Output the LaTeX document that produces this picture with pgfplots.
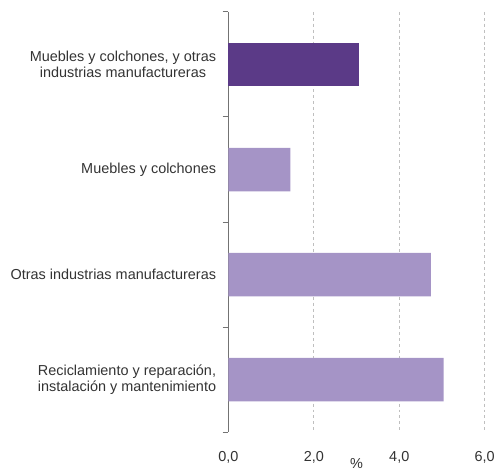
\documentclass[border=0pt]{standalone}
\usepackage{pgfplots}
\pgfplotsset{compat=1.18}
\usepackage{fontspec}
\setmainfont{Liberation Sans}
\definecolor{darkpurple}{HTML}{5B3A87}
\definecolor{lightpurple}{HTML}{A594C6}
\definecolor{txt}{HTML}{333333}
\begin{document}
\begin{tikzpicture}
\begin{axis}[
    xbar,
    bar shift=0pt,
    scale only axis,
    width=259pt,
    height=425pt,
    bar width=44pt,
    xmin=0, xmax=6,
    ymin=-0.5, ymax=3.5,
    y dir=reverse,
    axis lines*=left,
    x axis line style={draw=none},
    y axis line style={draw=gray!90!black, line width=1pt},
    xtick={0,2,4,6},
    xtick style={draw=none},
    xmajorgrids,
    grid style={dashed, gray!50, line width=0.9pt},
    ytick={-0.5,0.5,1.5,2.5,3.5},
    yticklabels={},
    ytick style={draw=gray!90!black, line width=1pt},
    major tick length=6pt,
    tick align=outside,
    extra y ticks={0,1,2,3},
    extra y tick labels={{Muebles y colchones, y otras\\industrias manufactureras},
                 {Muebles y colchones},
                 {Otras industrias manufactureras},
                 {Reciclamiento y reparación,\\instalación y mantenimiento}},
    extra y tick style={major tick length=0pt, tick style={draw=none}},
    yticklabel style={align=center, font=\fontsize{14.6}{17}\selectfont, text=txt, xshift=-9pt},
    xticklabel style={font=\fontsize{14.6}{17}\selectfont, text=txt, yshift=-10pt},
    x tick label style={/pgf/number format/.cd, fixed, fixed zerofill, precision=1, use comma, assume math mode=true},
    xlabel={\%},
    xlabel style={font=\fontsize{14.6}{17}\selectfont, text=txt, yshift=12pt},
    clip=false,
]
\addplot[fill=darkpurple, draw=none] coordinates {(3.06,0)};
\addplot[fill=lightpurple, draw=none] coordinates {(1.45,1) (4.74,2) (5.04,3)};
\path ([xshift=-231pt,yshift=12pt]rel axis cs:0,1) ([xshift=10pt,yshift=-37pt]rel axis cs:1,0);
\end{axis}
\end{tikzpicture}
\end{document}
